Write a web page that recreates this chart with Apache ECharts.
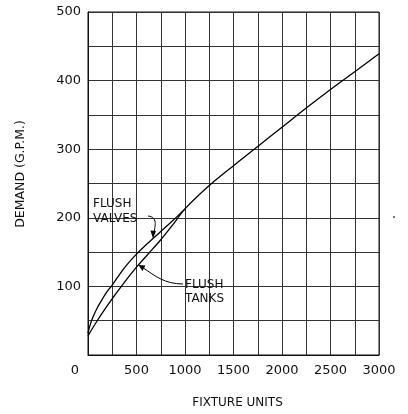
<!DOCTYPE html>
<html>
<head>
<meta charset="utf-8">
<script src="https://cdn.jsdelivr.net/npm/echarts@6/dist/echarts.min.js"></script>
<style>
html,body{margin:0;padding:0;background:#fff;}
#chart{width:408px;height:414px;}
</style>
</head>
<body>
<div id="chart"></div>
<script>
// ---- data ----
const valveUnits  = [0, 25, 50, 100, 150, 200, 250, 375, 500, 625, 750, 875, 1000];
const flushValves = [32, 45, 55, 70, 82, 93, 102, 127, 147, 164, 180, 196, 213];
const tankUnits   = [0, 100, 250, 375, 500, 625, 750, 875, 1000, 1250, 1500, 1750, 2000, 2250, 2500, 2750, 3000];
const flushTanks  = [28, 51, 82, 106, 128, 148, 168, 190, 213, 247, 276, 304, 332, 360, 387, 413, 439];
const xLabelValues = [0, 500, 1000, 1500, 2000, 2500, 3000];
const yLabelValues = [100, 200, 300, 400, 500];
const labelFont = 'DejaVu Sans';

const chart = echarts.init(document.getElementById('chart'), null, {renderer: 'canvas'});

function pairs(xs, ys) { return xs.map((x, i) => [x, ys[i]]); }
function interp(xs, ys, x) {
  for (let i = 0; i < xs.length - 1; i++) {
    if (x >= xs[i] && x <= xs[i + 1]) {
      const t = (x - xs[i]) / (xs[i + 1] - xs[i]);
      return ys[i] + t * (ys[i + 1] - ys[i]);
    }
  }
  return ys[ys.length - 1];
}

const option = {
  animation: false,
  backgroundColor: '#fff',
  grid: {left: 88, right: 29, top: 12, bottom: 55, show: true, borderColor: '#111', borderWidth: 1},
  xAxis: {
    type: 'value', min: 0, max: 3000, interval: 250,
    name: 'FIXTURE UNITS', nameLocation: 'middle', nameGap: 42,
    nameTextStyle: {fontFamily: labelFont, fontSize: 12, color: '#111', padding: [0, 0, 0, 8]},
    axisLine: {show: true, lineStyle: {color: '#111', width: 1}},
    axisTick: {show: false},
    axisLabel: {
      fontFamily: labelFont, fontSize: 13, color: '#111', margin: 9,
      formatter: v => xLabelValues.indexOf(v) < 0 ? '' : (v === 0 ? '{z|0}' : String(v)),
      rich: {z: {fontFamily: labelFont, fontSize: 13, color: '#111', padding: [0, 26, 0, 0]}}
    },
    splitLine: {show: true, lineStyle: {color: '#333', width: 1}}
  },
  yAxis: {
    type: 'value', min: 0, max: 500, interval: 50,
    axisLine: {show: true, lineStyle: {color: '#111', width: 1}},
    axisTick: {show: false},
    axisLabel: {
      fontFamily: labelFont, fontSize: 13, color: '#111', margin: 7,
      formatter: v => yLabelValues.indexOf(v) < 0 ? '' : String(v)
    },
    splitLine: {show: true, lineStyle: {color: '#333', width: 1}}
  },
  series: [
    {
      name: 'FLUSH VALVES', type: 'line', data: pairs(valveUnits, flushValves),
      smooth: 0.3, symbol: 'none', lineStyle: {color: '#000', width: 1.3}
    },
    {
      name: 'FLUSH TANKS', type: 'line', data: pairs(tankUnits, flushTanks),
      smooth: 0.3, symbol: 'none', lineStyle: {color: '#000', width: 1.3}
    }
  ]
};
chart.setOption(option);

// ---- annotations, anchored to the curves through the chart's own scales ----
const fvTip = chart.convertToPixel('grid', [670, interp(valveUnits, flushValves, 670)]);
const ftTip = chart.convertToPixel('grid', [520, interp(tankUnits, flushTanks, 520)]);
const txt = {fontFamily: labelFont, fontSize: 12, fill: '#111', textVerticalAlign: 'middle'};

chart.setOption({
  graphic: [
    {type: 'text', x: 21, y: 174, rotation: Math.PI / 2,
     style: {text: 'DEMAND (G.P.M.)', fontFamily: labelFont, fontSize: 12.5, fill: '#111',
             textAlign: 'center', textVerticalAlign: 'middle'}},
    {type: 'text', x: 93, y: 204, style: Object.assign({text: 'FLUSH'}, txt)},
    {type: 'text', x: 93, y: 219, style: Object.assign({text: 'VALVES'}, txt)},
    {type: 'text', x: 185, y: 285, style: Object.assign({text: 'FLUSH'}, txt)},
    {type: 'text', x: 185, y: 299, style: Object.assign({text: 'TANKS'}, txt)},
    // flush valves leader
    {type: 'bezierCurve', shape: {x1: 148, y1: 216, x2: fvTip[0] + 1, y2: fvTip[1] - 6, cpx1: 158, cpy1: 217, cpx2: fvTip[0] + 2, cpy2: 226},
     style: {stroke: '#000', lineWidth: 1, fill: null}},
    {type: 'polygon', shape: {points: [[fvTip[0], fvTip[1]], [fvTip[0] - 2.5, fvTip[1] - 8], [fvTip[0] + 3, fvTip[1] - 7.5]]},
     style: {fill: '#000'}},
    // flush tanks leader
    {type: 'bezierCurve', shape: {x1: 183, y1: 284, x2: ftTip[0] + 5, y2: ftTip[1] + 3, cpx1: 165, cpy1: 284, cpx2: 155, cpy2: 276},
     style: {stroke: '#000', lineWidth: 1, fill: null}},
    {type: 'polygon', shape: {points: [[ftTip[0], ftTip[1]], [ftTip[0] + 7, ftTip[1] + 0.5], [ftTip[0] + 4, ftTip[1] + 6]]},
     style: {fill: '#000'}},
    {type: 'circle', shape: {cx: 394, cy: 217, r: 0.9}, style: {fill: '#333'}}
  ]
});
</script>
</body>
</html>
